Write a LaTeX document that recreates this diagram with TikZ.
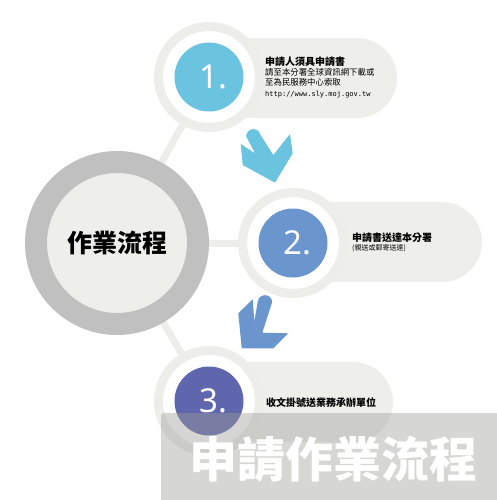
\documentclass[tikz,border=0pt]{standalone}
\usepackage{fontspec}
\setmainfont{Noto Sans CJK TC}
\newfontfamily\numfont{Noto Sans}
\newfontfamily\urlfont{DejaVu Sans Mono}
\usetikzlibrary{positioning}
\definecolor{stepone}{HTML}{6BC4DF}
\definecolor{steptwo}{HTML}{6B95CD}
\definecolor{stepthree}{HTML}{5F66AD}
\definecolor{ringgray}{HTML}{EDEDEA}
\definecolor{pillgray}{HTML}{EEEEEB}
\definecolor{hubgray}{HTML}{C0C0C0}
\definecolor{bannergray}{RGB}{157,157,152}
\tikzset{spoke/.style={draw=ringgray,line width=7pt}}
\tikzset{flowpill/.style={rectangle,fill=pillgray,draw=none,
minimum height=80pt,rounded corners=40pt,inner sep=0pt}}
\tikzset{flowring/.style={circle,fill=white,draw=ringgray,
line width=9pt,minimum size=101pt,inner sep=0pt}}
\tikzset{flownum/.style={circle,draw=none,text=white,
minimum size=69pt,inner sep=0pt,font=\numfont\fontsize{33}{36}\selectfont}}
\tikzset{steptitle/.style={inner sep=0pt,font=\bfseries\fontsize{10}{12}\selectfont}}
\tikzset{stepnote/.style={inner sep=0pt,font=\fontsize{8.4}{10}\selectfont}}
\tikzset{stepurl/.style={inner sep=0pt,font=\urlfont\fontsize{7}{9}\selectfont}}

\begin{document}
\begin{tikzpicture}[x=1pt,y=-1pt]
        \useasboundingbox (0,0) rectangle (496,500);

        \coordinate (hubpos) at (117,243);
        \coordinate (onepos) at (209,77);
        \coordinate (twopos) at (293,243);
        \coordinate (threepos) at (209,401);

        \draw[spoke] (hubpos) -- (onepos);
        \draw[spoke] (hubpos) -- (twopos);
        \draw[spoke] (hubpos) -- (threepos);

        \node[flowpill, minimum width=188pt] (pillA) at (303,78) {};
        \node[flowpill, minimum width=189pt] (pillB) at (387.5,242) {};
        \node[flowpill, minimum width=184pt] (pillC) at (301,402) {};

        \node[flowring] (ringA) at (onepos) {};
        \node[flowring] (ringB) at (twopos) {};
        \node[flowring] (ringC) at (threepos) {};

        \node[flownum, fill=stepone] (numA) at (onepos) {\hspace{8pt}1.};
        \node[flownum, fill=steptwo] (numB) at (twopos) {\hspace{8pt}2.};
        \node[flownum, fill=stepthree] (numC) at (threepos) {\hspace{8pt}3.};

        \node[circle, fill=pillgray, draw=hubgray, line width=22pt,
          minimum size=162pt, inner sep=0pt,
          font=\bfseries\fontsize{25}{28}\selectfont] (hub) at (hubpos) {作業流程};

        % arrow between step 1 and step 2
        \fill[stepone] (246,136) .. controls (248,127) and (258,127) .. (260,134)
          -- (273.3,155) -- (290,134) -- (292.7,153.3) -- (275,182.7)
          -- (242.7,165) -- (240.7,144) -- (255,153.3) -- cycle;

        % arrow between step 2 and step 3
        \fill[steptwo] (257.7,301.7) .. controls (259,293) and (271,293) .. (272.3,301.7)
          -- (262.3,332.7) -- (288.3,333.3) -- (273.3,348.3) -- (241.7,348.3)
          -- (238.3,313.3) -- (252.7,299.3) -- (254.3,321.7) -- cycle;

        \node[steptitle, anchor=base west] (titleA) at (265,66) {申請人須具申請書};
        \node[stepnote, anchor=base west] (noteA) at ([yshift=-10pt]titleA.base west) {請至本分署全球資訊網下載或};
        \node[stepnote, anchor=base west] (noteAA) at ([yshift=-10pt]noteA.base west) {至為民服務中心索取};
        \node[stepurl, anchor=base west] (urlA) at ([yshift=-10.5pt]noteAA.base west) {http://www.sly.moj.gov.tw};

        \node[steptitle, anchor=base west] (titleB) at (352,241) {申請書送達本分署};
        \node[stepnote, anchor=base west, font=\fontsize{7}{9}\selectfont] (noteB)
          at ([yshift=-9.5pt]titleB.base west) {(親送或郵寄送達)};

        \node[steptitle, anchor=base west] (titleC) at (266,406) {收文掛號送業務承辦單位};

        \fill[bannergray, fill opacity=0.42, rounded corners=3pt] (161,413) rectangle (510,510);
        \node[inner sep=0pt, text=white, font=\bfseries\fontsize{48}{52}\selectfont]
          (banner) at (333,459) {申請作業流程};

    \end{tikzpicture}
\end{document}
